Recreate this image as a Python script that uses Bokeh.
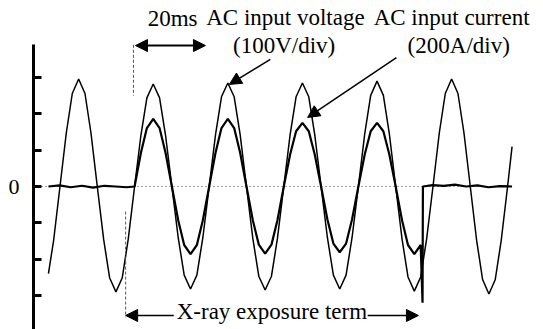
from bokeh.plotting import figure
from bokeh.models import Range1d, FixedTicker, Arrow, NormalHead
from bokeh.core.properties import value
from bokeh.embed import file_html
from bokeh.resources import INLINE

# ---- data (time in ms, amplitude in divisions) ----
volt_t = [4.0, 5.4, 7.1, 8.8, 10.4, 12.1, 13.8, 15.4, 17.1, 18.8, 20.4, 22.1, 23.8, 25.4,
          27.1, 28.8, 30.4, 32.1, 33.8, 35.4, 37.1, 38.8, 40.4, 42.1, 43.8, 45.4,
          47.1, 48.8, 50.4, 52.1, 53.8, 55.4, 57.1, 58.8, 60.4, 62.1, 63.8, 65.4,
          67.1, 68.8, 70.4, 72.1, 73.8, 75.4, 77.1, 78.8, 80.4, 82.1, 83.8, 85.4,
          87.1, 88.8, 90.4, 92.1, 93.8, 95.4, 97.1, 98.8, 100.4, 102.1, 103.8, 105.4,
          107.1, 108.8, 110.4, 112.1, 113.8, 115.4, 117.1, 118.8, 120.4, 122.1, 123.8, 125.4,
          127.1, 128.3]
volt_v = [-2.40, -1.48,
          0.0, 1.48, 2.56, 2.96, 2.56, 1.48, 0.0, -1.45, -2.51, -2.90, -2.51, -1.45,
          0.0, 1.41, 2.44, 2.82, 2.44, 1.41, 0.0, -1.41, -2.44, -2.82, -2.44, -1.41,
          0.0, 1.43, 2.47, 2.85, 2.47, 1.43, 0.0, -1.43, -2.47, -2.85, -2.47, -1.43,
          0.0, 1.43, 2.47, 2.85, 2.47, 1.43, 0.0, -1.41, -2.44, -2.82, -2.44, -1.41,
          0.0, 1.45, 2.51, 2.90, 2.51, 1.45, 0.0, -1.44, -2.49, -2.88, -2.49, -1.44,
          0.0, 1.48, 2.56, 2.96, 2.56, 1.48, 0.0, -1.48, -2.56, -2.96, -2.56, -1.48,
          0.0, 1.10]

curr_t = [4.0, 7.0, 10.0, 13.0, 16.0, 19.0, 22.0, 25.0,
          27.1, 28.8, 30.4, 32.1, 33.8, 35.4, 37.1, 38.8, 40.4, 42.1, 43.8, 45.4,
          47.1, 48.8, 50.4, 52.1, 53.8, 55.4, 57.1, 58.8, 60.4, 62.1, 63.8, 65.4,
          67.1, 68.8, 70.4, 72.1, 73.8, 75.4, 77.1, 78.8, 80.4, 82.1, 83.8, 85.4,
          87.1, 88.8, 90.4, 92.1, 93.8, 95.4, 97.1, 98.8, 100.4, 102.1, 103.8,
          104.3, 104.4,
          107.0, 110.0, 113.0, 116.0, 119.0, 122.0, 125.0, 128.3]
curr_v = [0.0, 0.03, -0.02, 0.02, -0.03, 0.02, 0.0, -0.02,
          0.0, 0.93, 1.61, 1.86, 1.61, 0.93, 0.0, -0.93, -1.61, -1.86, -1.61, -0.93,
          0.0, 0.93, 1.61, 1.86, 1.61, 0.93, 0.0, -0.93, -1.60, -1.85, -1.60, -0.93,
          0.0, 0.88, 1.52, 1.75, 1.52, 0.88, 0.0, -0.91, -1.57, -1.81, -1.57, -0.91,
          0.0, 0.88, 1.52, 1.75, 1.52, 0.88, 0.0, -0.93, -1.61, -1.86, -1.61,
          -3.20, 0.0,
          0.04, 0.02, 0.05, 0.0, 0.03, -0.02, 0.01, 0.0]

zero_t = [0.0, 128.4]
zero_v = [0.0, 0.0]

y_ticks = [-3, -2, -1, 0, 1, 2, 3]

SERIF = value("Liberation Serif")

p = figure(width=543, height=329, output_backend="svg", toolbar_location=None,
           x_range=Range1d(0, 136.73), y_range=Range1d(-3.936, 5.12),
           x_axis_location=None, min_border=0, min_border_left=33,
           outline_line_color=None)
p.grid.visible = False
p.background_fill_color = "white"
p.border_fill_color = "white"

ax = p.yaxis[0]
ax.ticker = FixedTicker(ticks=y_ticks)
ax.major_label_overrides = {t: ("0" if t == 0 else "") for t in y_ticks}
ax.bounds = (-3.95, 3.91)
ax.axis_line_width = 3
ax.axis_line_color = "black"
ax.major_tick_line_width = 3
ax.major_tick_line_color = "black"
ax.major_tick_in = 8
ax.major_tick_out = 0
ax.minor_tick_line_color = None
ax.major_label_standoff = 14
ax.major_label_text_font = "Liberation Serif"
ax.major_label_text_font_size = "22px"
ax.major_label_text_color = "black"

# zero reference (dotted)
p.line(zero_t, zero_v, line_color="#444444", line_width=1, line_dash="1 3")

# traces
p.line(volt_t, volt_v, line_color="black", line_width=1.5)
p.line(curr_t, curr_v, line_color="black", line_width=2.2)

# markers of exposure start
p.segment(x0=[26.8, 24.7], y0=[3.9, -0.69], x1=[26.8, 24.7], y1=[2.5, -3.6],
          line_color="#555555", line_width=1, line_dash="3 2")

def head(s):
    return NormalHead(size=s, fill_color="black", line_color="black")

# 20 ms double arrow
p.add_layout(Arrow(start=head(12), end=head(12), x_start=27.35, y_start=3.88,
                   x_end=46.1, y_end=3.88, line_width=2))
# annotation arrows
p.add_layout(Arrow(end=head(12), x_start=63.5, y_start=3.50, x_end=52.5, y_end=2.81,
                   line_width=1.5))
p.add_layout(Arrow(end=head(12), x_start=97.3, y_start=3.55, x_end=73.5, y_end=1.90,
                   line_width=1.5))
# exposure arrows
p.add_layout(Arrow(end=head(12), x_start=37.6, y_start=-3.55, x_end=24.7, y_end=-3.55,
                   line_width=1.5))
p.add_layout(Arrow(end=head(12), x_start=89.6, y_start=-3.55, x_end=103.2, y_end=-3.55,
                   line_width=1.5))

# texts
p.text(x=[37.3], y=[4.62], text=["20ms"], text_font=SERIF, text_font_size="23px",
       text_align="center", text_baseline="middle", text_color="black")
p.text(x=[46.3, 91.2], y=[4.65, 4.65], text=["AC input voltage", "AC input current"],
       text_font=SERIF, text_font_size="23px", text_align="left",
       text_baseline="middle", text_color="black")
p.text(x=[53.5, 100.3], y=[3.88, 3.88], text=["(100V/div)", "(200A/div)"],
       text_font=SERIF, text_font_size="23px", text_align="left",
       text_baseline="middle", text_color="black")
p.text(x=[38.4], y=[-3.44], text=["X-ray exposure term"], text_font=SERIF,
       text_font_size="23px", text_align="left", text_baseline="middle",
       text_color="black")

open("out.html", "w").write(file_html(p, INLINE))
